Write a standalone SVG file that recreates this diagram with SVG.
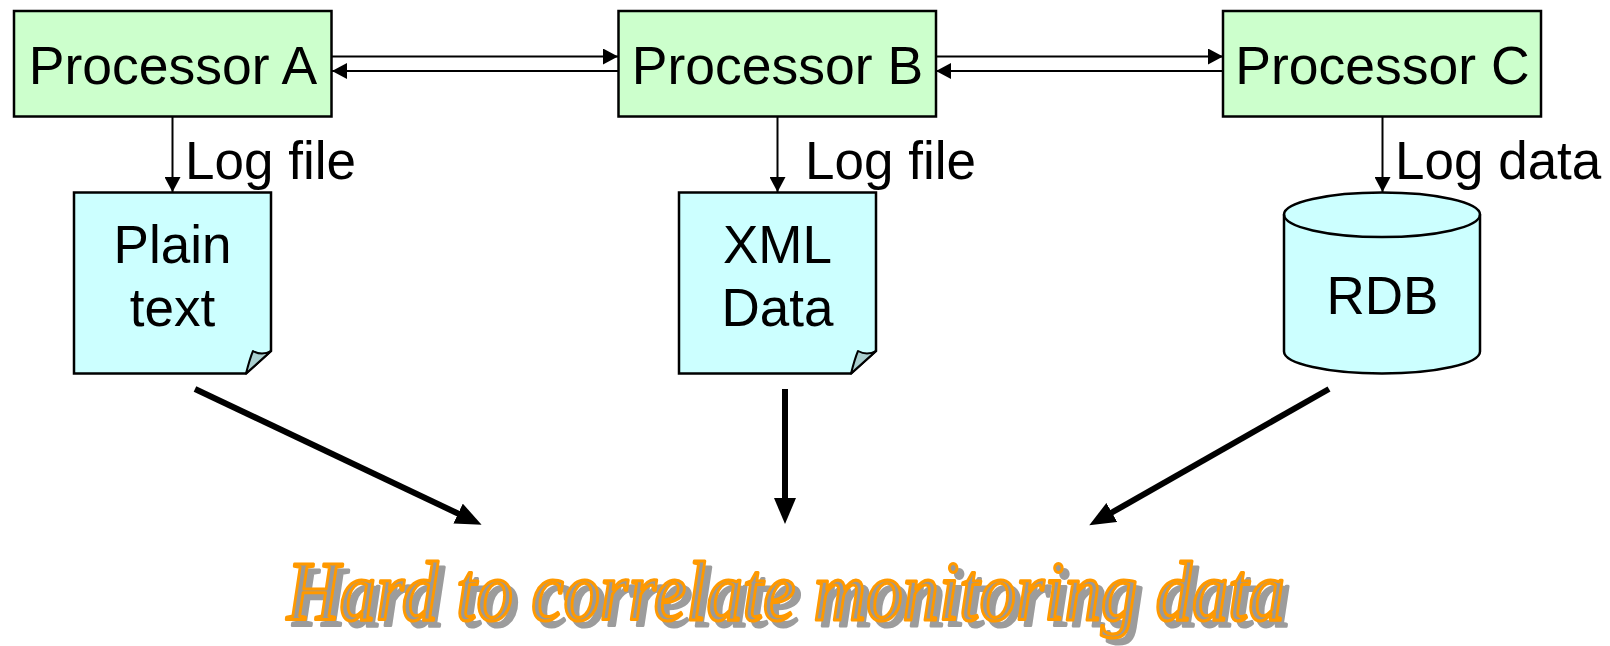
<svg xmlns="http://www.w3.org/2000/svg" width="1610" height="646" viewBox="0 0 1610 646">
<style>
.box{fill:#ccffcc;stroke:#000;stroke-width:2.500}
.doc{fill:#ccffff;stroke:#000;stroke-width:2.500;stroke-linejoin:miter}
.fold{fill:#a9cfcf;stroke:#000;stroke-width:2;stroke-linejoin:round}
text{font-family:"Liberation Sans",Arial,sans-serif;fill:#000}
.t{font-size:53px;text-anchor:middle}
.p{font-size:53.500px;text-anchor:middle}
.l{font-size:53px}
.c{fill:none;stroke:#000;stroke-width:2}
.h{fill:none;stroke:#000;stroke-width:6}
.title{font-family:"Liberation Serif",serif;font-style:italic;font-size:84px;fill:#999;stroke:#f90;stroke-width:3.200;stroke-linejoin:round}
</style>
<defs>
<marker id="a" markerUnits="userSpaceOnUse" markerWidth="15" markerHeight="16" refX="15" refY="8" orient="auto"><path d="M0 0L15 8L0 16z" fill="#000"/></marker>
<marker id="b" markerUnits="userSpaceOnUse" markerWidth="26" markerHeight="22" refX="1" refY="11" orient="auto"><path d="M0 0L26 11L0 22z" fill="#000"/></marker>
<filter id="shadow" x="-2%" y="-20%" width="104%" height="150%" color-interpolation-filters="sRGB">
<feOffset in="SourceAlpha" dx="6" dy="6" result="o"/>
<feFlood flood-color="#9c9c9c"/>
<feComposite in2="o" operator="in" result="s"/>
<feMerge><feMergeNode in="s"/><feMergeNode in="SourceGraphic"/></feMerge>
</filter>
</defs>
<g id="connectors">
<path class="c" d="M332 56.500H618" marker-end="url(#a)"/>
<path class="c" d="M618 71H332" marker-end="url(#a)"/>
<path class="c" d="M936 56.500H1223" marker-end="url(#a)"/>
<path class="c" d="M1223 71H936" marker-end="url(#a)"/>
<path class="c" d="M172.500 117V192" marker-end="url(#a)"/>
<path class="c" d="M777.500 117V192" marker-end="url(#a)"/>
<path class="c" d="M1382.500 117V192" marker-end="url(#a)"/>
<path class="h" d="M195 389L459 514" marker-end="url(#b)"/>
<path class="h" d="M785 389V499" marker-end="url(#b)"/>
<path class="h" d="M1329 389L1111 513" marker-end="url(#b)"/>
</g>
<g id="processor-a"><rect class="box" x="14" y="11" width="317.500" height="105.500"/><text class="p" x="173" y="84">Processor A</text></g>
<g id="processor-b"><rect class="box" x="618.500" y="11" width="317.500" height="105.500"/><text class="p" x="777.500" y="84">Processor B</text></g>
<g id="processor-c"><rect class="box" x="1223" y="11" width="318" height="105.500"/><text class="p" x="1382.500" y="84">Processor C</text></g>
<g id="log-a"><text class="l" x="185" y="179">Log file</text></g>
<g id="log-b"><text class="l" x="805" y="179">Log file</text></g>
<g id="log-c"><text class="l" x="1395" y="179">Log data</text></g>
<g id="plain-text"><path class="doc" d="M74 192.500H271V351L246 373.500H74z"/><path class="fold" d="M246 373.500Q250 358 253 351Q262 356 271 351z"/><text class="t" x="172.500" y="263">Plain</text><text class="t" x="172.500" y="326">text</text></g>
<g id="xml-data"><path class="doc" d="M679 192.500H876V351L851 373.500H679z"/><path class="fold" d="M851 373.500Q855 358 858 351Q867 356 876 351z"/><text class="t" x="777.500" y="263">XML</text><text class="t" x="777.500" y="326">Data</text></g>
<g id="rdb"><path class="doc" d="M1284 214.500V351.500A98 22 0 0 0 1480 351.500V214.500A98 22 0 0 0 1284 214.500z"/><path class="doc" style="fill:none" d="M1284 214.500A98 22.500 0 0 0 1480 214.500"/><text class="t" x="1382.500" y="314">RDB</text></g>
<g id="title">
<text class="title" x="287" y="620" textLength="998" lengthAdjust="spacingAndGlyphs" filter="url(#shadow)">Hard to correlate monitoring data</text>
</g>
</svg>
